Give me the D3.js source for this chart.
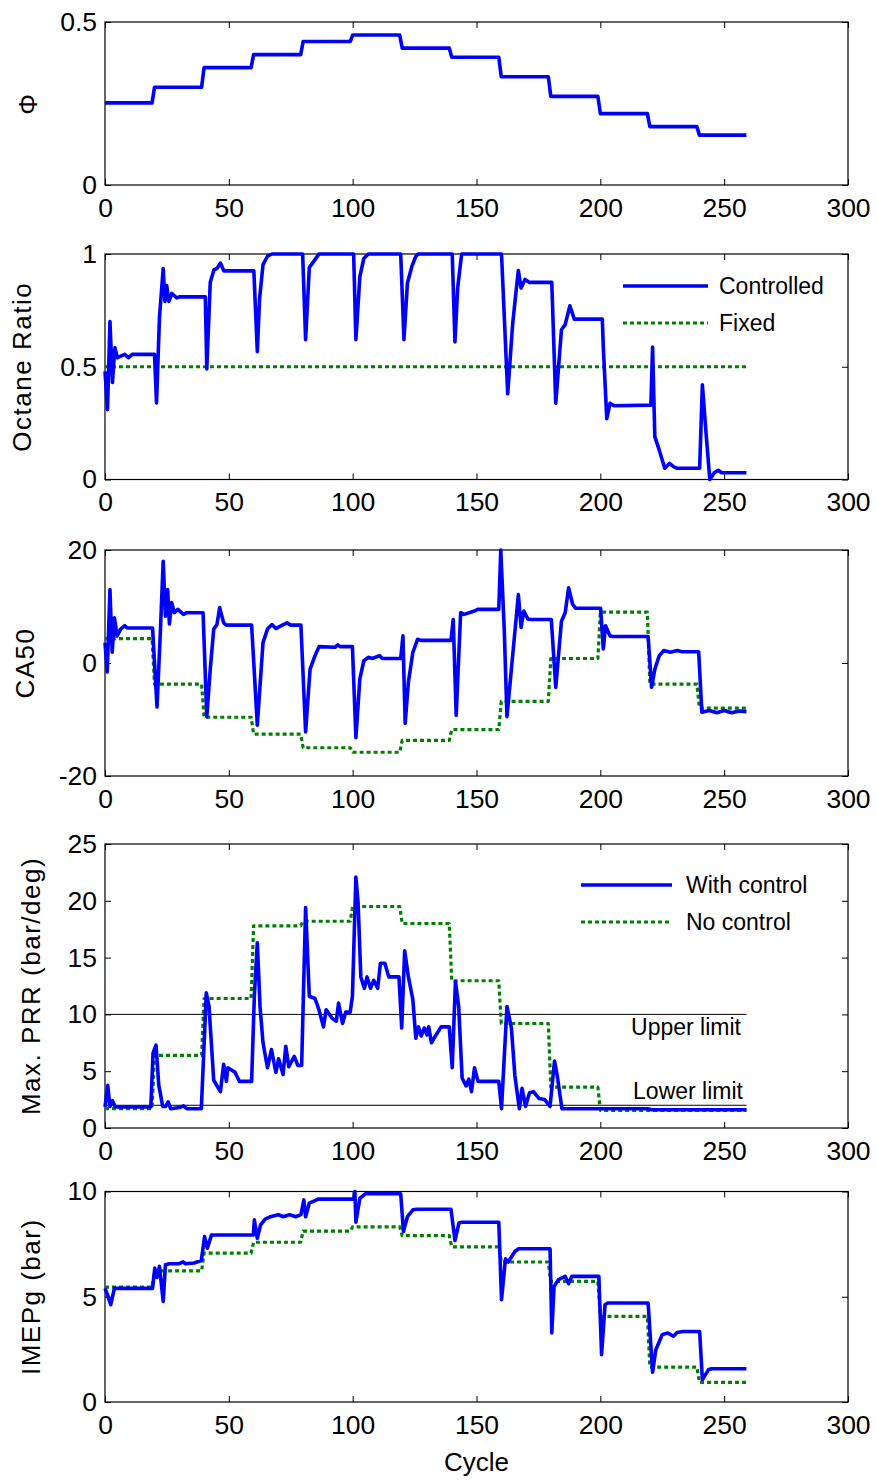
<!DOCTYPE html>
<html>
<head>
<meta charset="utf-8">
<script src="https://cdn.jsdelivr.net/npm/d3@7"></script>
<style>
  body { margin: 0; background: #fff; }
  svg text { font-family: "Liberation Sans", Arial, Helvetica, sans-serif; fill: #000; }
</style>
</head>
<body>
<svg id="chart" width="877" height="1481"></svg>
<script>
// ---- shared x axis ----
const xTicks = [0, 50, 100, 150, 200, 250, 300];

// ---- equivalence ratio (Φ) ----
const phiCycle = [0,19,20,39,40,59,60,79,80,99,100,119,120,139,140,159,160,179,180,199,200,219,220,239,240,259];
const phiValue = [0.252,0.252,0.30,0.30,0.36,0.36,0.40,0.40,0.44,0.44,0.46,0.46,0.42,0.42,0.392,0.392,0.332,0.332,0.272,0.272,0.219,0.219,0.179,0.179,0.153,0.153];
const phiTicks = [0, 0.5];

// ---- octane ratio ----
const octCtrlCycle = [0,1,2,3,4,5,8,9.5,11,20,
  20.8,22,23.5,24.2,24.9,25.8,27,29,30,40.5,
  41.1,42.5,44,45.2,46.6,48,60.1,
  61.5,62.4,63.8,65.6,67.4,79.8,
  81,82.5,84.8,86.4,100.4,
  101.3,102.9,104.5,106.3,119.4,
  120.7,122.1,123.9,125.5,126.5,140.2,
  141.3,142.4,144,160.1,
  162.6,164.6,165.9,166.9,168,169.6,171.4,180.4,
  182,184.3,185.8,187.7,189.5,200.8,
  201.2,202.6,203.9,205.6,220.4,
  221.1,222,223.8,226,227.9,229.7,231,240.1,
  241.2,242.8,244.2,246,247.6,249,259];
const octCtrlValue = [0.48,0.31,0.70,0.43,0.585,0.54,0.555,0.54,0.555,0.555,
  0.34,0.72,0.935,0.79,0.86,0.79,0.825,0.805,0.81,0.81,
  0.49,0.875,0.93,0.935,0.96,0.925,0.925,
  0.567,0.80,0.953,0.99,1.0,1.0,
  0.62,0.94,0.975,1.0,1.0,
  0.62,0.90,0.98,1.0,1.0,
  0.62,0.87,0.945,0.99,1.0,1.0,
  0.61,0.85,1.0,1.0,
  0.38,0.69,0.827,0.927,0.849,0.887,0.874,0.874,
  0.338,0.664,0.687,0.77,0.711,0.711,
  0.587,0.27,0.338,0.327,0.33,
  0.587,0.19,0.13,0.05,0.071,0.056,0.05,0.05,
  0.42,0.19,0.0,0.03,0.041,0.03,0.03];
const octFixedCycle = [0, 259];
const octFixedValue = [0.5, 0.5];
const octTicks = [0, 0.5, 1];

// ---- CA50 ----
const caCtrlCycle = [0,0.9,2,2.9,3.8,4.9,6.3,8,9,19.2,
  21,22.4,23.5,24.4,25.3,26,26.9,28,29.4,31.7,33,39.6,
  41.1,42.5,43.9,45.2,46.3,47.9,49,59.2,
  61.5,63.8,65.6,67.4,69,71.2,73.5,75,79.1,
  81,82.8,84.8,86.4,93,94,95,99.9,
  101.3,102.9,104.5,106.3,108,110.8,112,119.4,
  120.3,121.2,122.5,124.3,126.2,127.5,139.7,
  140.6,141.8,143.6,145,149.2,150.5,159,
  159.8,161.2,162.3,164.6,166.9,168,169.1,170.7,172,180.2,
  182,184.3,185.8,187.2,188.8,190,200.1,
  201.2,202.1,203.9,205,219.3,
  220.7,222,223.8,225.6,228.3,231,233,239.7,
  241,244,247,250,253,256,259];
const caCtrlValue = [3.6,-1.6,13.0,1.9,8.0,4.8,6.0,6.6,6.2,6.2,
  -7.8,6.0,18.0,8.3,13.0,6.9,10.7,8.9,9.5,8.6,8.9,8.9,
  -9.5,-1.1,6.0,6.8,9.8,7.1,6.7,6.7,
  -11.0,3.6,6.0,6.8,6.1,6.6,7.1,6.7,6.7,
  -12.2,-1.1,1.3,2.9,2.8,3.2,2.9,2.9,
  -13.2,-2.8,0.4,1.0,0.8,1.3,0.8,0.8,
  4.8,-10.7,-3.4,1.9,4.2,4.0,4.0,
  7.7,-9.3,8.9,8.6,9.2,9.5,9.5,
  20,6.0,-9.5,1.3,12.1,6.3,9.2,7.8,7.7,7.7,
  -4.3,7.4,8.9,13.3,10.4,9.7,9.7,
  2.5,6.6,4.8,4.7,4.7,
  -4.3,-1.1,1.3,2.2,1.9,2.2,2.0,2.0,
  -8.7,-8.4,-8.8,-8.4,-8.8,-8.5,-8.6];
const caFixedCycle = [0,19,20,39,40,59,60,79,80,99,100,119,120,139,140,159,160,179,180,199,200,219,220,239,240,259];
const caFixedValue = [4.3,4.3,-3.75,-3.75,-9.6,-9.6,-12.6,-12.6,-15.0,-15.0,-15.8,-15.8,-13.7,-13.7,-11.8,-11.8,-6.8,-6.8,0.8,0.8,9.0,9.0,-3.75,-3.75,-8.0,-8.0];
const caTicks = [-20, 0, 20];

// ---- maximum pressure rise rate ----
const prrCtrlCycle = [0,1.1,2,3,4.2,18.5,
  19.4,20.6,21.7,23.3,24.5,25.5,26.5,30,31.7,33,38.9,
  40.9,42,43.9,46.6,47.9,49,49.6,52.5,54.3,59.2,
  60.3,61.5,62.6,63.8,65.6,67.2,69,70.1,71.9,73,74.2,76.4,77.9,79.4,
  81,82.5,84.8,86.4,88.2,89.3,91.6,93.4,94.3,95.9,97.2,99,99.9,
  101.3,102.2,103.3,104.7,105.8,107.2,108.5,110.1,111.2,113,114.6,118.7,
  119.8,121,122.5,124.3,125.5,126.6,127.7,128.9,130,130.7,131.8,133.4,135.7,139,
  140.2,141.5,142.8,144.2,145.8,146.9,148,149.2,150.6,159,
  160.1,162.3,164.1,165.5,167.3,168.4,169.8,171.4,173,175.2,177.5,179.7,
  181.5,182.6,184.5,219,221,259];
const prrCtrlValue = [1.85,3.75,1.9,2.4,1.85,1.85,
  6.6,7.3,3.8,1.9,1.9,2.3,1.7,1.8,1.95,1.7,1.7,
  11.9,10.7,4.2,3.2,5.6,4.1,5.3,4.9,4.1,4.1,
  11.6,16.3,10.7,7.5,5.3,6.9,4.9,6.1,4.7,7.2,5.4,6.3,5.5,5.5,
  19.4,11.6,11.4,10.4,8.9,10.4,9.7,9.4,11.0,9.2,10.2,10.2,11.6,
  22.1,19.8,13.3,12.3,13.3,12.3,13.0,12.3,14.5,14.5,13.3,13.3,
  8.8,15.6,13.3,11.3,7.9,8.9,8.1,8.8,8.2,8.9,7.5,8.1,8.9,8.9,
  5.3,12.9,10.7,4.4,3.7,4.3,3.2,5.3,4.1,4.1,
  1.7,10.7,8.8,4.6,1.7,3.5,1.9,3.1,3.2,2.6,2.5,1.9,
  5.9,4.6,1.7,1.7,1.6,1.6];
const prrFixedCycle = [0,19,20,39,40,59,60,79,80,99,100,119,120,139,140,159,160,179,180,199,200,259];
const prrFixedValue = [1.7,1.7,6.4,6.4,11.4,11.4,17.8,17.8,18.2,18.2,19.5,19.5,18.0,18.0,12.96,12.96,9.2,9.2,3.6,3.6,1.55,1.55];
const prrLimitCycle = [0, 259];
const prrUpperLimit = 10;
const prrLowerLimit = 2;
const prrTicks = [0, 5, 10, 15, 20, 25];

// ---- gross indicated mean effective pressure ----
const imepCtrlCycle = [0,1,2.3,3.8,19.2,
  20.1,21,22,23.5,24.4,26,30,31.5,32.5,36,38.9,
  40.2,41.3,43,59.9,
  60.3,61.5,62.8,64.7,66.7,70,72,74.5,77,79.1,
  80.3,81,82.5,84.8,86,100.4,
  100.9,101.3,102.9,105.1,119.4,
  120.5,122.1,124.3,126,139.7,
  141.3,142.9,144,159,
  160.1,161.7,162.8,165.5,167,179.7,
  180.4,181.3,183.1,185.8,187.2,188.5,199.4,
  200.5,201.9,203,219.3,
  221.1,222.4,225,227.2,229.5,231,233.3,240.1,
  241.2,243.7,245,259];
const imepCtrlValue = [5.4,5.1,4.62,5.4,5.4,
  6.36,5.92,6.44,4.78,6.52,6.57,6.57,6.66,6.57,6.6,6.72,
  7.86,7.31,7.93,7.93,
  8.65,7.78,8.41,8.69,8.8,8.9,8.8,8.9,8.8,8.9,
  9.6,8.8,9.45,9.57,9.64,9.64,
  10.0,8.54,9.68,9.89,9.89,
  8.1,8.8,9.13,9.16,9.16,
  7.67,8.5,8.54,8.54,
  4.86,6.8,6.65,7.15,7.28,7.28,
  3.28,5.49,5.81,5.97,5.62,5.97,5.97,
  2.25,4.62,4.7,4.7,
  1.41,2.48,3.2,3.28,3.12,3.3,3.35,3.35,
  1.06,1.54,1.58,1.58];
const imepFixedCycle = [0,19,20,39,40,59,60,79,80,99,100,119,120,139,140,159,160,179,180,199,200,219,220,239,240,259];
const imepFixedValue = [5.46,5.46,6.23,6.23,7.07,7.07,7.59,7.59,8.12,8.12,8.32,8.32,7.9,7.9,7.37,7.37,6.65,6.65,5.73,5.73,4.07,4.07,1.66,1.66,0.93,0.93];
const imepTicks = [0, 5, 10];

// ---- drawing ----
const BLUE = "#0000ff";
const GREEN = "#008000";
const SOLID_W = 3.6, DOT_W = 3.2;
const svg = d3.select("#chart");
const left = 105, right = 848;
const x = d3.scaleLinear().domain([0, 300]).range([left, right]);

function fmt(v) { return String(v); }

function drawPanel(cfg) {
  const y = d3.scaleLinear().domain(cfg.domain).range([cfg.bottom, cfg.top]);
  const g = svg.append("g");

  // inward ticks on all four sides
  g.append("g").attr("transform", `translate(0,${cfg.bottom})`)
    .call(d3.axisBottom(x).tickValues(xTicks).tickSizeInner(-6).tickSizeOuter(0).tickPadding(13).tickFormat(fmt));
  g.append("g").attr("transform", `translate(0,${cfg.top})`)
    .call(d3.axisTop(x).tickValues(xTicks).tickSizeInner(-6).tickSizeOuter(0).tickFormat(""));
  g.append("g").attr("transform", `translate(${left},0)`)
    .call(d3.axisLeft(y).tickValues(cfg.ticks).tickSizeInner(-6).tickSizeOuter(0).tickPadding(8).tickFormat(fmt));
  g.append("g").attr("transform", `translate(${right},0)`)
    .call(d3.axisRight(y).tickValues(cfg.ticks).tickSizeInner(-6).tickSizeOuter(0).tickFormat(""));
  g.selectAll(".domain").remove();
  g.selectAll(".tick line").attr("stroke", "#000").attr("stroke-width", 1);
  g.selectAll(".tick text").attr("font-size", 26.5).attr("fill", "#000")
    .attr("font-family", "\"Liberation Sans\", Arial, sans-serif");

  // frame
  g.append("rect").attr("x", left).attr("y", cfg.top)
    .attr("width", right - left).attr("height", cfg.bottom - cfg.top)
    .attr("fill", "none").attr("stroke", "#000").attr("stroke-width", 1.2);

  // reference lines
  (cfg.hlines || []).forEach(h => {
    g.append("path")
      .attr("d", d3.line().x(d => x(d)).y(() => y(h.value))(h.cycles))
      .attr("stroke", "#000").attr("stroke-width", 1).attr("fill", "none");
    g.append("text").attr("x", h.textX).attr("y", y(h.value) + h.dy)
      .attr("text-anchor", "end").attr("font-size", 23).text(h.label);
  });

  // data series
  cfg.series.forEach(s => {
    const pts = s.cycles.map((c, i) => [c, s.values[i]]);
    g.append("path")
      .attr("d", d3.line().x(d => x(d[0])).y(d => y(d[1]))(pts))
      .attr("fill", "none")
      .attr("stroke", s.color)
      .attr("stroke-width", s.dotted ? DOT_W : SOLID_W)
      .attr("stroke-dasharray", s.dotted ? "4,3" : null)
      .attr("stroke-linejoin", "round");
  });

  // legend
  if (cfg.legend) {
    cfg.legend.items.forEach((it, i) => {
      const ly = cfg.legend.y + i * cfg.legend.step;
      g.append("line").attr("x1", cfg.legend.x1).attr("x2", cfg.legend.x2)
        .attr("y1", ly).attr("y2", ly)
        .attr("stroke", it.color).attr("stroke-width", it.dotted ? DOT_W : SOLID_W)
        .attr("stroke-dasharray", it.dotted ? "4,3" : null);
      g.append("text").attr("x", cfg.legend.tx).attr("y", ly + 8)
        .attr("font-size", 23).text(it.label);
    });
  }

  // y label
  g.append("text")
    .attr("transform", `translate(${cfg.labelX},${(cfg.top + cfg.bottom) / 2}) rotate(-90)`)
    .attr("text-anchor", "middle").attr("font-size", 26)
    .attr("letter-spacing", cfg.spacing || 1.5)
    .text(cfg.label);
}

drawPanel({
  top: 22, bottom: 185, domain: [0, 0.5], ticks: phiTicks, label: "Φ", labelX: 37,
  series: [{ cycles: phiCycle, values: phiValue, color: BLUE }]
});

drawPanel({
  top: 254, bottom: 479.5, domain: [0, 1], ticks: octTicks, label: "Octane Ratio", labelX: 31,
  series: [
    { cycles: octFixedCycle, values: octFixedValue, color: GREEN, dotted: true },
    { cycles: octCtrlCycle, values: octCtrlValue, color: BLUE }
  ],
  legend: { x1: 623, x2: 708, tx: 719, y: 286, step: 37,
    items: [{ label: "Controlled", color: BLUE }, { label: "Fixed", color: GREEN, dotted: true }] }
});

drawPanel({
  top: 550, bottom: 776, domain: [-20, 20], ticks: caTicks, label: "CA50", labelX: 34,
  series: [
    { cycles: caFixedCycle, values: caFixedValue, color: GREEN, dotted: true },
    { cycles: caCtrlCycle, values: caCtrlValue, color: BLUE }
  ]
});

drawPanel({
  top: 844, bottom: 1128, domain: [0, 25], ticks: prrTicks, label: "Max. PRR (bar/deg)", labelX: 40,
  hlines: [
    { value: prrUpperLimit, cycles: prrLimitCycle, label: "Upper limit", textX: 741, dy: 21 },
    { value: prrLowerLimit, cycles: prrLimitCycle, label: "Lower limit", textX: 743, dy: -6 }
  ],
  series: [
    { cycles: prrFixedCycle, values: prrFixedValue, color: GREEN, dotted: true },
    { cycles: prrCtrlCycle, values: prrCtrlValue, color: BLUE }
  ],
  legend: { x1: 581, x2: 672, tx: 686, y: 885, step: 37,
    items: [{ label: "With control", color: BLUE }, { label: "No control", color: GREEN, dotted: true }] }
});

drawPanel({
  top: 1191.5, bottom: 1402, domain: [0, 10], ticks: imepTicks, label: "IMEPg (bar)", labelX: 40,
  series: [
    { cycles: imepFixedCycle, values: imepFixedValue, color: GREEN, dotted: true },
    { cycles: imepCtrlCycle, values: imepCtrlValue, color: BLUE }
  ]
});

svg.append("text").attr("x", (left + right) / 2).attr("y", 1471)
  .attr("text-anchor", "middle").attr("font-size", 26).text("Cycle");
</script>
</body>
</html>
